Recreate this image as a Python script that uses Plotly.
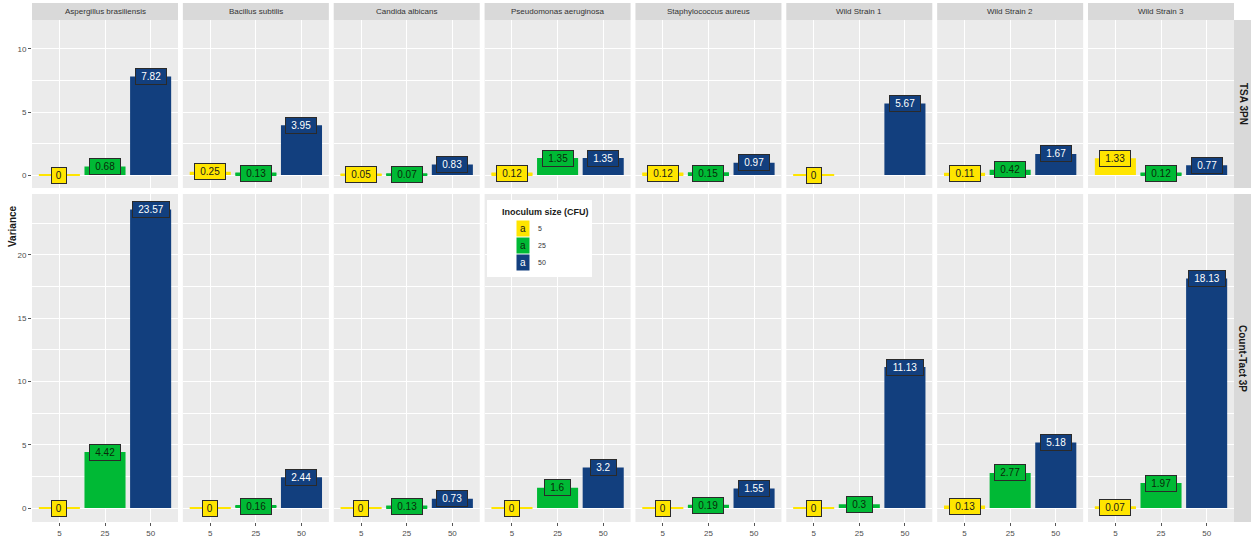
import plotly.graph_objects as go

W, H = 1251, 543

species = ["Aspergillus brasiliensis", "Bacillus subtilis", "Candida albicans",
           "Pseudomonas aeruginosa", "Staphylococcus aureus", "Wild Strain 1",
           "Wild Strain 2", "Wild Strain 3"]
media = ["TSA 3PN", "Count-Tact 3P"]
sizes = ["5", "25", "50"]

# variance values, per medium, per inoculum size, per species
tsa_5 = [0, 0.25, 0.05, 0.12, 0.12, 0, 0.11, 1.33]
tsa_25 = [0.68, 0.13, 0.07, 1.35, 0.15, None, 0.42, 0.12]
tsa_50 = [7.82, 3.95, 0.83, 1.35, 0.97, 5.67, 1.67, 0.77]
ct_5 = [0, 0, 0, 0, 0, 0, 0.13, 0.07]
ct_25 = [4.42, 0.16, 0.13, 1.6, 0.19, 0.3, 2.77, 1.97]
ct_50 = [23.57, 2.44, 0.73, 3.2, 1.55, 11.13, 5.18, 18.13]

data = {"TSA 3PN": [tsa_5, tsa_25, tsa_50],
        "Count-Tact 3P": [ct_5, ct_25, ct_50]}

fills = ["#FFE500", "#00B935", "#123F7E"]
text_cols = ["#1a1a1a", "#0a2a0a", "#FFFFFF"]

row_tick_vals = {"TSA 3PN": [0, 5, 10], "Count-Tact 3P": [0, 5, 10, 15, 20]}
row_ranges = {"TSA 3PN": [-1.03, 12.3], "Count-Tact 3P": [-1.1, 24.8]}

FONT = "Liberation Sans, Arial, sans-serif"


def px(x):
    return x / W


def py(y):
    return 1 - y / H


col_x0 = 32
col_step = 150.86
col_w = 146
row_px = {"TSA 3PN": (20, 188), "Count-Tact 3P": (194, 522)}

fig = go.Figure()
layout = {}
annotations = []
shapes = []


def paper_text(x, y, text, size, color, angle=0, xanchor="center", **kw):
    d = dict(x=px(x), y=py(y), xref="paper", yref="paper", text=text,
             showarrow=False, xanchor=xanchor, yanchor="middle",
             textangle=angle, font=dict(size=size, color=color, family=FONT))
    d.update(kw)
    return d


for r, med in enumerate(media):
    for c, sp in enumerate(species):
        k = r * 8 + c + 1
        xa = "x" if k == 1 else f"x{k}"
        ya = "y" if k == 1 else f"y{k}"
        xkey = "xaxis" if k == 1 else f"xaxis{k}"
        ykey = "yaxis" if k == 1 else f"yaxis{k}"
        x0 = col_x0 + c * col_step
        y_top, y_bot = row_px[med]
        layout[xkey] = dict(
            domain=[px(x0), px(x0 + col_w)], anchor=ya, range=[0.4, 3.6],
            tickvals=[1, 2, 3], ticktext=sizes,
            showticklabels=(r == 1), ticks="outside" if r == 1 else "",
            ticklen=3, tickcolor="#555555",
            tickfont=dict(size=8, color="#4D4D4D", family=FONT),
            showgrid=True, gridcolor="white", gridwidth=1.1,
            zeroline=False, showline=False, fixedrange=True)
        layout[ykey] = dict(
            domain=[py(y_bot), py(y_top)], anchor=xa, range=row_ranges[med],
            tickvals=row_tick_vals[med],
            showticklabels=(c == 0), ticks="outside" if c == 0 else "",
            ticklen=3, tickcolor="#555555",
            tickfont=dict(size=8, color="#4D4D4D", family=FONT),
            showgrid=True, gridcolor="white", gridwidth=1.1,
            minor=dict(dtick=2.5, tick0=0, showgrid=True, gridcolor="white",
                       gridwidth=0.5, ticks=""),
            zeroline=False, showline=False, fixedrange=True)

        vals = [data[med][s][c] for s in range(3)]
        fig.add_trace(go.Bar(
            x=[1, 2, 3], y=vals, width=0.9,
            marker=dict(color=fills, line=dict(width=0)),
            xaxis=xa, yaxis=ya, showlegend=False, hoverinfo="skip"))
        # near-zero values: draw a flat line at the bar's level
        for s, v in enumerate(vals):
            if v is not None and v < 0.2:
                fig.add_trace(go.Scatter(
                    x=[s + 1 - 0.45, s + 1 + 0.45], y=[v, v], mode="lines",
                    line=dict(color=fills[s], width=2),
                    xaxis=xa, yaxis=ya, showlegend=False, hoverinfo="skip"))
        for s, v in enumerate(vals):
            if v is None:
                continue
            lab = f"{v:g}"
            annotations.append(dict(
                x=s + 1, y=v, xref=xa, yref=ya, text=lab,
                xanchor="center", yanchor="middle",
                width=5.6 * len(lab) + 6, height=13,
                showarrow=False, bgcolor=fills[s], bordercolor="#2a2a2a",
                borderwidth=1, borderpad=1,
                font=dict(size=10, color=text_cols[s], family=FONT)))

        # top strips (species)
        if r == 0:
            shapes.append(dict(type="rect", xref="paper", yref="paper",
                               x0=px(x0), x1=px(x0 + col_w), y0=py(20), y1=py(3),
                               fillcolor="#D9D9D9", line=dict(width=0), layer="below"))
            annotations.append(paper_text(x0 + col_w / 2, 11.5, sp, 8, "#333333"))

# right strips (media)
for med in media:
    y_top, y_bot = row_px[med]
    shapes.append(dict(type="rect", xref="paper", yref="paper",
                       x0=px(1234), x1=px(1251), y0=py(y_bot), y1=py(y_top),
                       fillcolor="#D9D9D9", line=dict(width=0), layer="below"))
    annotations.append(paper_text(1243, (y_top + y_bot) / 2, f"<b>{med}</b>",
                                  10, "#1a1a1a", angle=90))

# y axis title
annotations.append(paper_text(12, 226, "<b>Variance</b>", 10, "#1a1a1a", angle=-90))

# legend
shapes.append(dict(type="rect", xref="paper", yref="paper",
                   x0=px(487), x1=px(592), y0=py(277), y1=py(200),
                   fillcolor="white", line=dict(width=0), layer="above"))
annotations.append(paper_text(500, 212, "<b>Inoculum size (CFU)</b>", 9,
                              "#1a1a1a", xanchor="left"))
for s, lab in enumerate(sizes):
    yc = 228 + s * 17
    annotations.append(paper_text(523, yc, "a", 10, text_cols[s],
                                  bgcolor=fills[s], width=12, height=15,
                                  borderpad=0))
    annotations.append(paper_text(536, yc, lab, 7, "#333333", xanchor="left"))

fig.update_layout(
    width=W, height=H, margin=dict(l=0, r=0, t=0, b=0),
    paper_bgcolor="white", plot_bgcolor="#EBEBEB",
    barmode="overlay", showlegend=False,
    annotations=annotations, shapes=shapes,
    font=dict(family=FONT), **layout)

fig.write_html("out.html")
